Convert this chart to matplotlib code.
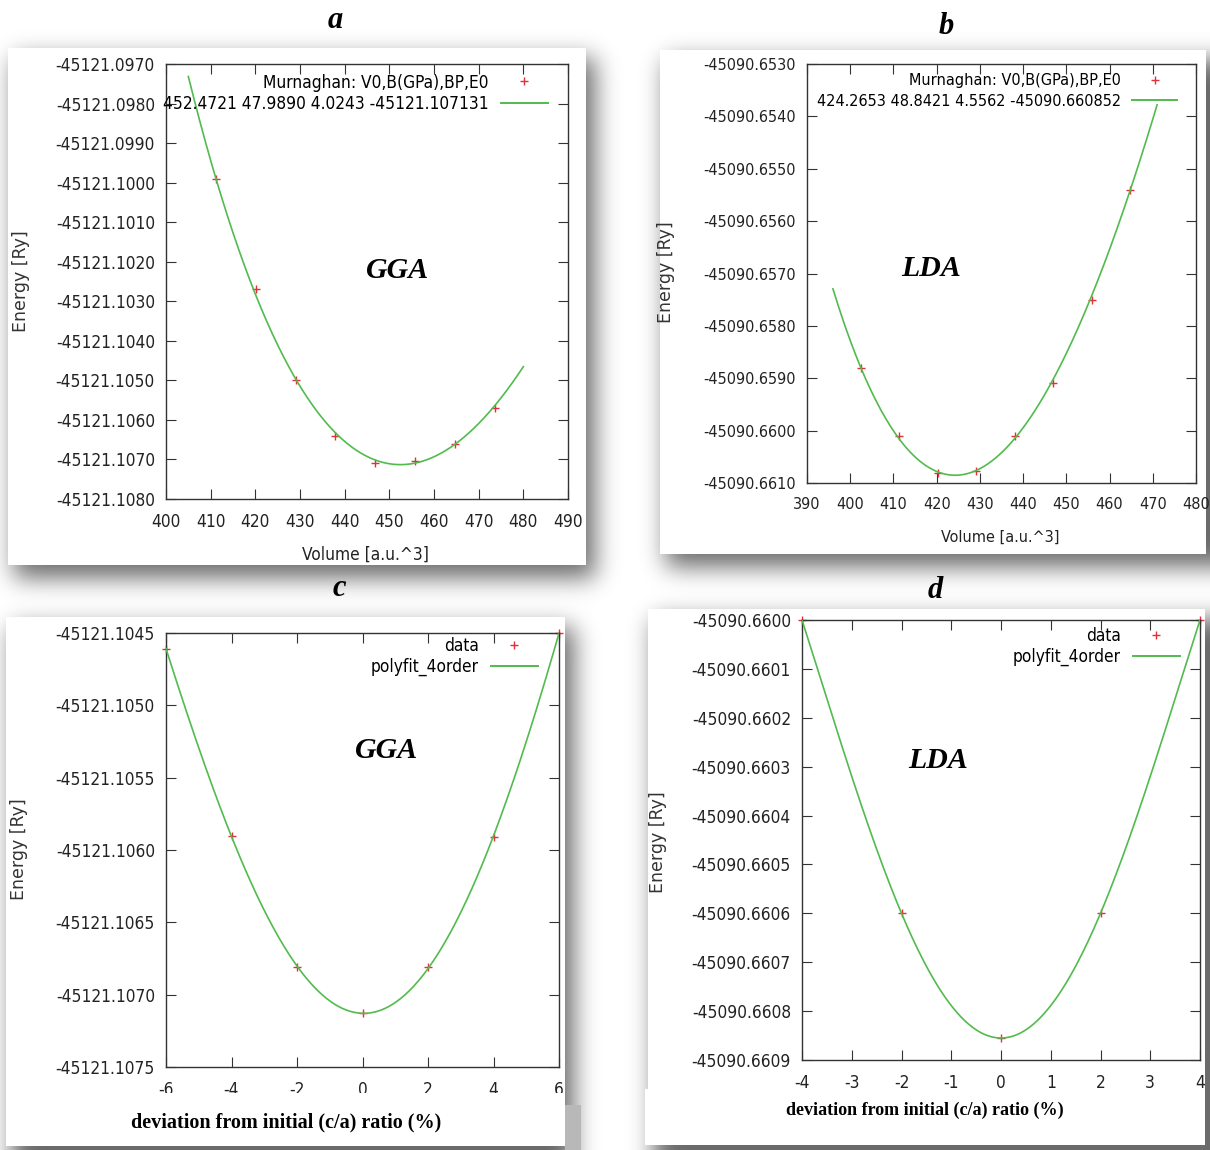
import os
import numpy as np
import matplotlib
matplotlib.use("Agg")
import matplotlib.pyplot as plt
from matplotlib import font_manager as fm
from matplotlib.lines import Line2D
from matplotlib.patches import Rectangle
from matplotlib.ticker import FixedLocator, FixedFormatter

# 1 Ry/bohr^3 expressed in GPa
RY_BOHR3_IN_GPA = 14710.507848

# ---------------- (a) GGA : energy versus volume ----------------
a_volume = [411.3, 420.1, 429.1, 437.9, 446.8, 455.8, 464.8, 473.6]
a_energy = [-45121.0999, -45121.1027, -45121.1050, -45121.1064,
            -45121.10708, -45121.10705, -45121.1066, -45121.1057]
a_params = [452.4721, 47.9890, 4.0243, -45121.107131]   # V0, B(GPa), BP, E0
a_fit_span = [405.0, 480.0]
a_xticks = ["400", "410", "420", "430", "440", "450", "460", "470", "480", "490"]
a_yticks = ["-45121.0970", "-45121.0980", "-45121.0990", "-45121.1000",
            "-45121.1010", "-45121.1020", "-45121.1030", "-45121.1040",
            "-45121.1050", "-45121.1060", "-45121.1070", "-45121.1080"]

# ---------------- (b) LDA : energy versus volume ----------------
b_volume = [402.5, 411.4, 420.3, 429.2, 438.1, 447.0, 455.9, 464.8]
b_energy = [-45090.6588, -45090.6601, -45090.6608, -45090.66077,
            -45090.6601, -45090.6591, -45090.6575, -45090.6554]
b_params = [424.2653, 48.8421, 4.5562, -45090.660852]
b_fit_span = [396.0, 471.0]
b_xticks = ["390", "400", "410", "420", "430", "440", "450", "460", "470", "480"]
b_yticks = ["-45090.6530", "-45090.6540", "-45090.6550", "-45090.6560",
            "-45090.6570", "-45090.6580", "-45090.6590", "-45090.6600",
            "-45090.6610"]

# ---------------- (c) GGA : energy versus c/a deviation ----------------
c_dev = [-6, -4, -2, 0, 2, 4, 6]
c_energy = [-45121.10461, -45121.10590, -45121.10681, -45121.10713,
            -45121.10681, -45121.10591, -45121.10450]
c_xticks = ["-6", "-4", "-2", "0", "2", "4", "6"]
c_yticks = ["-45121.1045", "-45121.1050", "-45121.1055", "-45121.1060",
            "-45121.1065", "-45121.1070", "-45121.1075"]

# ---------------- (d) LDA : energy versus c/a deviation ----------------
d_dev = [-4, -2, 0, 2, 4]
d_energy = [-45090.66000, -45090.66060, -45090.660855, -45090.66060, -45090.66000]
d_xticks = ["-4", "-3", "-2", "-1", "0", "1", "2", "3", "4"]
d_yticks = ["-45090.6600", "-45090.6601", "-45090.6602", "-45090.6603",
            "-45090.6604", "-45090.6605", "-45090.6606", "-45090.6607",
            "-45090.6608", "-45090.6609"]

W, H = 1210, 1150
POINT_COLOR = "#e2303a"
FIT_COLOR = "#52bb4e"
TEXT_COLOR = "#222222"


def murnaghan(v, v0, b_gpa, bp, e0):
    b = b_gpa / RY_BOHR3_IN_GPA
    return e0 + b * v / bp * ((v0 / v) ** bp / (bp - 1.0) + 1.0) - b * v0 / (bp - 1.0)


def find_font_file(names):
    for name in names:
        for f in fm.fontManager.ttflist:
            if os.path.basename(f.fname) == name:
                return f.fname
    return None


cond_file = find_font_file(["DejaVuSansCondensed.ttf"])
narrow_file = find_font_file(["LiberationSansNarrow-Regular.ttf"])


def gp_font(scale=1.0):
    if cond_file:
        return fm.FontProperties(fname=cond_file, size=12.4 * scale)
    if narrow_file:
        return fm.FontProperties(fname=narrow_file, size=14.0 * scale)
    return fm.FontProperties(family="DejaVu Sans", size=11.0 * scale)


def gaussian_blur(img, sigma):
    r = int(3 * sigma)
    k = np.exp(-0.5 * (np.arange(-r, r + 1) / sigma) ** 2)
    k /= k.sum()
    conv = lambda m: np.convolve(np.pad(m, r, mode="edge"), k, mode="valid")
    out = np.apply_along_axis(conv, 1, img)
    return np.apply_along_axis(conv, 0, out)


fig = plt.figure(figsize=(W / 100, H / 100), dpi=100)

# ---- paper cards with soft drop shadows ----
cards = [(8, 48, 586, 565), (660, 50, 1206, 554),
         (6, 617, 565, 1146), (648, 609, 1205, 1145)]
shade = np.zeros((H, W))
for x0, y0, x1, y1 in cards:
    m = np.zeros((H, W))
    m[y0 + 10:y1 + 13, x0 + 6:x1 + 9] = 1.0
    shade = np.maximum(shade, m)
shade = gaussian_blur(shade, 12.0)
bg = 1.0 - 0.58 * shade
for x0, y0, x1, y1 in cards:
    bg[y0:y1, x0:x1] = 1.0

bg_ax = fig.add_axes([0, 0, 1, 1], zorder=-10)
bg_ax.imshow(bg, cmap="gray", vmin=0, vmax=1, extent=(0, W, H, 0),
             aspect="auto", interpolation="bilinear")
bg_ax.set_xlim(0, W)
bg_ax.set_ylim(H, 0)
bg_ax.axis("off")


def make_axes(l, t, r, b):
    return fig.add_axes([l / W, 1 - b / H, (r - l) / W, (b - t) / H])


def style_axes(ax, xt, yt, legend_labels, leg_right_px, leg_top_px, px_w, px_h, fp,
               spacing=0.18):
    xs = [float(s) for s in xt]
    ys = [float(s) for s in yt]
    ax.xaxis.set_major_locator(FixedLocator(xs))
    ax.xaxis.set_major_formatter(FixedFormatter(xt))
    ax.yaxis.set_major_locator(FixedLocator(ys))
    ax.yaxis.set_major_formatter(FixedFormatter(yt))
    ax.set_xlim(min(xs), max(xs))
    ax.set_ylim(min(ys), max(ys))
    ax.tick_params(direction="in", length=7, width=0.8, color="#333333",
                   top=True, right=True, labelcolor=TEXT_COLOR)
    ax.tick_params(axis="y", pad=8)
    ax.tick_params(axis="x", pad=10)
    for lab in ax.get_xticklabels() + ax.get_yticklabels():
        lab.set_fontproperties(fp)
    for sp in ax.spines.values():
        sp.set_color("#333333")
        sp.set_linewidth(1.0)
    handles = [Line2D([], [], ls="none", marker="+", ms=6, mew=1.0, color=POINT_COLOR),
               Line2D([], [], color=FIT_COLOR, lw=1.4)]
    ax.legend(handles, legend_labels, loc="upper right", markerfirst=False,
              frameon=False, prop=fp, handlelength=2.75, handletextpad=0.7,
              labelspacing=spacing, borderaxespad=0, borderpad=0,
              bbox_to_anchor=(1 - leg_right_px / px_w, 1 - leg_top_px / px_h))


def plot_points(ax, x, y):
    ax.plot(x, y, ls="none", marker="+", ms=6, mew=1.0, color=POINT_COLOR,
            zorder=2, clip_on=False)


font_a = gp_font(1.0)
font_b = gp_font(0.94)

# ---- (a) ----
axa = make_axes(166, 64, 568, 499)
va = np.linspace(a_fit_span[0], a_fit_span[1], 300)
plot_points(axa, a_volume, a_energy)
axa.plot(va, murnaghan(va, *a_params), color=FIT_COLOR, lw=1.2, zorder=3)
style_axes(axa, a_xticks, a_yticks,
           ["Murnaghan: V0,B(GPa),BP,E0",
            "{:.4f} {:.4f} {:.4f} {:.6f}".format(*a_params)],
           20, 9.5, 402, 435, font_a)

# ---- (b) ----
axb = make_axes(807, 64, 1196, 483)
vb = np.linspace(b_fit_span[0], b_fit_span[1], 300)
plot_points(axb, b_volume, b_energy)
axb.plot(vb, murnaghan(vb, *b_params), color=FIT_COLOR, lw=1.2, zorder=3)
style_axes(axb, b_xticks, b_yticks,
           ["Murnaghan: V0,B(GPa),BP,E0",
            "{:.4f} {:.4f} {:.4f} {:.6f}".format(*b_params)],
           19, 9.5, 389, 419, font_b, spacing=0.32)

# ---- (c) ----
axc = make_axes(166, 633, 559, 1067)
c_ref = c_energy[3]
c_coef = np.polyfit(c_dev, np.array(c_energy) - c_ref, 4)
xc = np.linspace(min(c_dev), max(c_dev), 300)
plot_points(axc, c_dev, c_energy)
axc.plot(xc, np.polyval(c_coef, xc) + c_ref, color=FIT_COLOR, lw=1.2, zorder=3)
style_axes(axc, c_xticks, c_yticks, ["data", "polyfit_4order"], 21, 4, 393, 434, font_a)

# ---- (d) ----
axd = make_axes(802, 620, 1200, 1060)
d_ref = d_energy[2]
d_coef = np.polyfit(d_dev, np.array(d_energy) - d_ref, 4)
xd = np.linspace(min(d_dev), max(d_dev), 300)
plot_points(axd, d_dev, d_energy)
axd.plot(xd, np.polyval(d_coef, xd) + d_ref, color=FIT_COLOR, lw=1.2, zorder=3)
style_axes(axd, d_xticks, d_yticks, ["data", "polyfit_4order"], 20, 7, 398, 440, font_a)

# ---- overlay: labels, captions and white caption strips ----
ov = fig.add_axes([0, 0, 1, 1], zorder=5)
ov.set_xlim(0, W)
ov.set_ylim(H, 0)
ov.axis("off")

ov.add_patch(Rectangle((6, 1093), 559, 53, facecolor="white", edgecolor="none"))
ov.add_patch(Rectangle((565, 1105), 16, 45, facecolor="#b8b8b8", edgecolor="none"))
ov.add_patch(Rectangle((645, 1089), 560, 56, facecolor="white", edgecolor="none"))

serif_bi = dict(family="Liberation Serif", weight="bold", style="italic")
for letter, x, y in [("a", 335, 20), ("b", 946, 26), ("c", 339, 589), ("d", 935, 591)]:
    ov.text(x, y, letter, ha="center", va="center", fontsize=22, **serif_bi)
for name, x, y in [("GGA", 398, 271), ("LDA", 931, 269), ("GGA", 387, 750), ("LDA", 938, 760)]:
    ov.text(x, y, name, ha="center", va="center", fontsize=21.5, **serif_bi)

for x, y in [(21, 281), (666, 272), (19, 849), (658, 842)]:
    ov.text(x, y, "Energy [Ry]", ha="center", va="center", rotation=90,
            fontsize=12.5, family="DejaVu Sans", color="#333333")
ov.text(365, 555, "Volume [a.u.^3]", ha="center", va="center",
        fontproperties=font_a, color=TEXT_COLOR)
ov.text(1000, 537, "Volume [a.u.^3]", ha="center", va="center",
        fontproperties=font_b, color=TEXT_COLOR)

ov.text(286, 1122, "deviation from initial (c/a) ratio (%)", ha="center", va="center",
        family="Liberation Serif", weight="bold", fontsize=14.5)
ov.text(925, 1110, "deviation from initial (c/a) ratio (%)", ha="center", va="center",
        family="Liberation Serif", weight="bold", fontsize=13)

fig.savefig("out.png", dpi=100)
